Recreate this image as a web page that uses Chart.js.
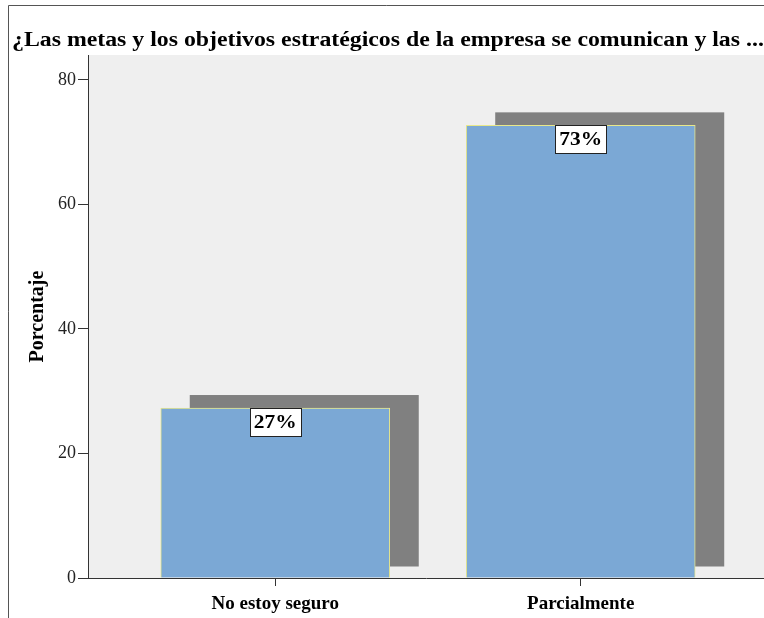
<!DOCTYPE html>
<html>
<head>
<meta charset="utf-8">
<script src="https://cdn.jsdelivr.net/npm/chart.js@4.4.1/dist/chart.umd.min.js"></script>
<style>
html,body{margin:0;padding:0;background:#fff;}
canvas{display:block;}
</style>
</head>
<body>
<canvas id="c" width="764" height="618"></canvas>
<script>
const chartTitle = "¿Las metas y los objetivos estratégicos de la empresa se comunican y las ...";
const categories = ["No estoy seguro", "Parcialmente"];
const percentages = [27.3, 72.7];
const yTicks = [0, 20, 40, 60, 80];
const yAxisTitle = "Porcentaje";

const SERIF = '"Liberation Serif", "Times New Roman", serif';
const STRETCH = 1.19;

function stretchedText(ctx, txt, x, y, align) {
  const w = ctx.measureText(txt).width * STRETCH;
  let left = x;
  if (align === 'center') left = x - w / 2;
  ctx.save();
  ctx.translate(left, y);
  ctx.scale(STRETCH, 1);
  ctx.textAlign = 'left';
  ctx.fillText(txt, 0, 0);
  ctx.restore();
}

const framePlugin = {
  id: 'frame',
  beforeDraw(chart) {
    const {ctx, chartArea: a} = chart;
    ctx.save();
    ctx.fillStyle = '#ffffff';
    ctx.fillRect(0, 0, chart.width, chart.height);
    ctx.fillStyle = '#efefef';
    ctx.fillRect(a.left, a.top, a.right - a.left, a.bottom - a.top);
    ctx.strokeStyle = '#555';
    ctx.lineWidth = 1;
    ctx.beginPath();
    ctx.moveTo(8.5, chart.height);
    ctx.lineTo(8.5, 5.5);
    ctx.lineTo(chart.width, 5.5);
    ctx.stroke();
    ctx.fillStyle = '#000';
    ctx.font = 'bold 20px ' + SERIF;
    ctx.textBaseline = 'alphabetic';
    stretchedText(ctx, chartTitle, 12, 46, 'left');
    ctx.restore();
  }
};

const shadowPlugin = {
  id: 'shadow',
  beforeDatasetsDraw(chart) {
    const {ctx, chartArea: a} = chart;
    const meta = chart.getDatasetMeta(0);
    ctx.save();
    ctx.beginPath();
    ctx.rect(a.left, a.top, a.right - a.left, a.bottom - a.top);
    ctx.clip();
    ctx.fillStyle = '#808080';
    meta.data.forEach(el => {
      const w = el.width;
      const x0 = el.x - w / 2 + 29;
      const y0 = el.y - 13;
      const y1 = el.base - 11;
      ctx.fillRect(x0, y0, w, y1 - y0);
    });
    ctx.restore();
  }
};

const labelPlugin = {
  id: 'vlabels',
  afterDatasetsDraw(chart) {
    const {ctx} = chart;
    const meta = chart.getDatasetMeta(0);
    ctx.save();
    ctx.font = 'bold 18px ' + SERIF;
    ctx.textBaseline = 'middle';
    meta.data.forEach((el, i) => {
      const txt = Math.round(percentages[i]) + '%';
      const tw = ctx.measureText(txt).width * STRETCH;
      const bw = Math.round(tw + 8), bh = 28;
      const bx = Math.round(el.x - bw / 2) + 0.5, by = Math.round(el.y) + 0.5;
      ctx.fillStyle = '#fff';
      ctx.fillRect(bx, by, bw, bh);
      ctx.strokeStyle = '#222';
      ctx.lineWidth = 1;
      ctx.strokeRect(bx, by, bw, bh);
      ctx.fillStyle = '#000';
      stretchedText(ctx, txt, el.x, by + bh / 2 + 1, 'center');
    });
    ctx.restore();
  }
};

new Chart(document.getElementById('c'), {
  type: 'bar',
  data: {
    datasets: [{
      data: percentages.map((v, i) => ({x: i + 1, y: v})),
      backgroundColor: '#7ba8d5',
      borderColor: '#e8e88a',
      borderWidth: 1,
      barThickness: 229
    }]
  },
  options: {
    responsive: false,
    animation: false,
    layout: {padding: {top: 55, left: 0, right: 0, bottom: 0}},
    plugins: {legend: {display: false}, tooltip: {enabled: false}, title: {display: false}},
    scales: {
      x: {
        type: 'linear',
        offset: false,
        min: 0.387,
        max: 2.6,
        afterBuildTicks(scale) { scale.ticks = categories.map((c, i) => ({value: i + 1})); },
        afterFit(scale) { scale.height = 40; },
        ticks: {
          callback: v => categories[Math.round(v) - 1] || '',
          font: {family: SERIF, size: 19, weight: 'bold'},
          color: '#000',
          padding: 7,
          maxRotation: 0,
          autoSkip: false
        },
        grid: {drawOnChartArea: false, offset: false, tickLength: 8, color: '#333'},
        border: {color: '#333', width: 1}
      },
      y: {
        min: 0,
        max: 84,
        afterBuildTicks(scale) { scale.ticks = yTicks.map(v => ({value: v})); },
        afterFit(scale) { scale.width = 88; },
        ticks: {
          font: {family: SERIF, size: 18},
          color: '#222',
          padding: 2
        },
        grid: {drawOnChartArea: false, tickLength: 10, color: '#333'},
        border: {color: '#333', width: 1},
        title: {
          display: true,
          text: yAxisTitle,
          font: {family: SERIF, size: 20, weight: 'bold'},
          color: '#000',
          padding: {top: 26, bottom: 0}
        }
      }
    }
  },
  plugins: [framePlugin, shadowPlugin, labelPlugin]
});
</script>
</body>
</html>
